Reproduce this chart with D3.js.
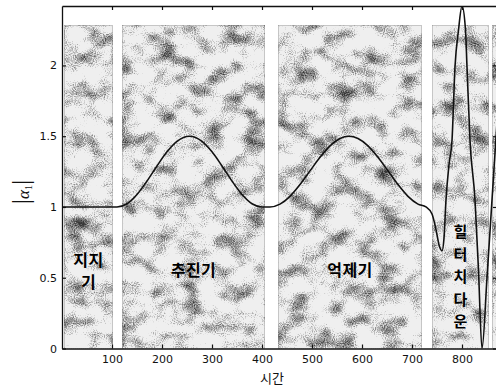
<!DOCTYPE html>
<html>
<head>
<meta charset="utf-8">
<script src="https://cdn.jsdelivr.net/npm/d3@7"></script>
<style>
  html, body { margin: 0; padding: 0; background: #fff; }
  svg { display: block; }
</style>
</head>
<body>
<div id="chart"></div>
<script>
// time axis samples and |a1|
const time = [0, 60, 110, 130, 150, 170, 190, 210, 230, 255, 280, 300, 320, 340, 360, 380, 400,
  416, 436, 456, 476, 496, 516, 536, 556, 574, 592, 612, 632, 652, 672, 692, 712, 728,
  740, 748, 755, 760, 764, 768, 774, 780, 786, 793, 800, 807, 810, 816, 826, 833, 840, 850, 860, 870];
const alpha = [1, 1, 1, 1.023, 1.088, 1.183, 1.29, 1.39, 1.464, 1.5, 1.464, 1.39, 1.29, 1.183, 1.088, 1.023, 1.0,
  1.0, 1.02, 1.075, 1.158, 1.255, 1.351, 1.432, 1.484, 1.5, 1.484, 1.432, 1.351, 1.255, 1.158, 1.075, 1.02, 1.0,
  0.95, 0.84, 0.72, 0.69, 0.78, 1.05, 1.3, 1.47, 1.99, 2.25, 2.42, 2.25, 1.99, 1.47, 1.05, 0.55, 0.0, 0.5, 1.05, 1.6];

// gait phases (shaded bands)
const phaseStart = [4, 120, 432, 740, 860];
const phaseEnd = [102, 406, 720, 854, 900];
const phaseLabels = [["지지", "기"], ["추진기"], ["억제기"], ["힐", "터", "치", "다", "운"], []];

const xTicks = [100, 200, 300, 400, 500, 600, 700, 800];
const yTicks = [0, 0.5, 1, 1.5, 2];
const yTickLabels = ["0", "0.5", "1", "1.5", "2"];

const width = 496;
const height = 388;
const plotLeft = 62, plotRight = 497, plotTop = 6, plotBottom = 348.5;
const bandTop = 25;

const x = d3.scaleLinear().domain([0, 870]).range([plotLeft, plotRight]);
const y = d3.scaleLinear().domain([0, 2.42]).range([plotBottom, plotTop]);

const svg = d3.select("#chart").append("svg")
  .attr("width", width)
  .attr("height", height);

const defs = svg.append("defs");

// mottled grey texture of the scanned bands
const filter = defs.append("filter")
  .attr("id", "mottle")
  .attr("x", 0).attr("y", 0).attr("width", 1).attr("height", 1)
  .attr("color-interpolation-filters", "sRGB");
filter.append("feTurbulence")
  .attr("type", "fractalNoise")
  .attr("baseFrequency", "0.045 0.06")
  .attr("numOctaves", 2)
  .attr("seed", 7)
  .attr("result", "bigRaw");
filter.append("feColorMatrix")
  .attr("in", "bigRaw").attr("type", "matrix")
  .attr("values", "1 0 0 0 0  1 0 0 0 0  1 0 0 0 0  0 0 0 0 1")
  .attr("result", "big");
filter.append("feTurbulence")
  .attr("type", "fractalNoise")
  .attr("baseFrequency", "0.9")
  .attr("numOctaves", 1)
  .attr("seed", 3)
  .attr("result", "fineRaw");
filter.append("feColorMatrix")
  .attr("in", "fineRaw").attr("type", "matrix")
  .attr("values", "1 0 0 0 0  1 0 0 0 0  1 0 0 0 0  0 0 0 0 1")
  .attr("result", "fine");
filter.append("feComposite")
  .attr("in", "big").attr("in2", "fine")
  .attr("operator", "arithmetic")
  .attr("k1", 0).attr("k2", 1).attr("k3", 0.6).attr("k4", -0.3)
  .attr("result", "mix");
filter.append("feColorMatrix")
  .attr("in", "mix").attr("type", "matrix")
  .attr("values", "-2.4 0 0 0 2.15  -2.4 0 0 0 2.15  -2.4 0 0 0 2.15  0 0 0 0 1")
  .attr("result", "grey");
const transfer = filter.append("feComponentTransfer").attr("in", "grey");
["feFuncR", "feFuncG", "feFuncB"].forEach((f) => {
  transfer.append(f).attr("type", "linear").attr("slope", 0.72).attr("intercept", 0.22);
});

defs.append("clipPath").attr("id", "plotClip")
  .append("rect")
  .attr("x", plotLeft).attr("y", plotTop)
  .attr("width", plotRight - plotLeft).attr("height", plotBottom - plotTop);

const plot = svg.append("g").attr("clip-path", "url(#plotClip)");

// shaded phase bands
plot.selectAll("rect.band")
  .data(phaseStart)
  .enter().append("rect")
  .attr("class", "band")
  .attr("x", (d) => x(d))
  .attr("y", bandTop)
  .attr("width", (d, i) => x(phaseEnd[i]) - x(d))
  .attr("height", plotBottom - bandTop)
  .attr("filter", "url(#mottle)");

plot.selectAll("rect.bandEdge")
  .data(phaseStart)
  .enter().append("rect")
  .attr("class", "bandEdge")
  .attr("x", (d) => x(d) + 0.5)
  .attr("y", bandTop + 0.5)
  .attr("width", (d, i) => x(phaseEnd[i]) - x(d) - 1)
  .attr("height", plotBottom - bandTop)
  .attr("fill", "none")
  .attr("stroke", "#888")
  .attr("stroke-width", 0.8)
  .attr("stroke-dasharray", "1 1");

// phase labels
const labelFont = "'Noto Sans CJK KR', 'Noto Sans', sans-serif";
phaseLabels.forEach((lines, i) => {
  if (!lines.length) {
    return;
  }
  const cx = (x(phaseStart[i]) + x(phaseEnd[i])) / 2;
  const lineGap = lines.length > 2 ? 22.5 : 22;
  const cy = lines.length > 2 ? 277 : (lines.length === 2 ? 271 : 270);
  const t = plot.append("text")
    .attr("text-anchor", "middle")
    .style("font-family", labelFont)
    .style("font-weight", "bold")
    .style("font-size", lines.length > 2 ? "15px" : "16px")
    .style("letter-spacing", lines.length > 2 ? "0px" : "0.5px")
    .attr("fill", "#000");
  lines.forEach((line, j) => {
    t.append("tspan")
      .attr("x", cx)
      .attr("y", cy + (j - (lines.length - 1) / 2) * lineGap)
      .attr("dy", "0.36em")
      .text(line);
  });
});

// |a1| curve
const line = d3.line()
  .x((d, i) => x(time[i]))
  .y((d) => y(d))
  .curve(d3.curveMonotoneX);

plot.append("path")
  .datum(alpha)
  .attr("d", line)
  .attr("fill", "none")
  .attr("stroke", "#111")
  .attr("stroke-width", 1.6);

// axes, MATLAB style with inward ticks on all four sides
const tickFont = "'DejaVu Sans', sans-serif";

svg.append("g")
  .attr("transform", `translate(0,${plotBottom})`)
  .call(d3.axisBottom(x).tickValues(xTicks).tickSize(-4).tickSizeOuter(0).tickPadding(7));

svg.append("g")
  .attr("transform", `translate(${plotLeft},0)`)
  .call(d3.axisLeft(y).tickValues(yTicks).tickFormat((d, i) => yTickLabels[i])
    .tickSize(-4).tickSizeOuter(0).tickPadding(5));

svg.append("g")
  .attr("transform", `translate(0,${plotTop})`)
  .call(d3.axisTop(x).tickValues(xTicks).tickFormat("").tickSize(-4).tickSizeOuter(0));

svg.append("g")
  .attr("transform", `translate(${plotRight},0)`)
  .call(d3.axisRight(y).tickValues(yTicks).tickFormat("").tickSize(-4).tickSizeOuter(0));

svg.selectAll(".domain").attr("stroke", "#111").attr("stroke-width", 1.3);
svg.selectAll(".tick line").attr("stroke", "#111").attr("stroke-width", 1.2);
svg.selectAll(".tick text")
  .style("font-family", tickFont)
  .style("font-size", "11px")
  .attr("fill", "#111");

// axis titles
svg.append("text")
  .attr("x", 272)
  .attr("y", 383)
  .attr("text-anchor", "middle")
  .style("font-family", labelFont)
  .style("font-size", "13px")
  .attr("fill", "#111")
  .text("시간");

const yTitle = svg.append("text")
  .attr("transform", "translate(29,192) rotate(-90)")
  .attr("text-anchor", "middle")
  .style("font-family", "'Liberation Serif', serif")
  .attr("fill", "#111");
yTitle.append("tspan").style("font-size", "26px").text("|");
yTitle.append("tspan").style("font-size", "17px").style("font-style", "italic").text("α");
yTitle.append("tspan").style("font-size", "10px").attr("dy", 3).text("1");
yTitle.append("tspan").style("font-size", "26px").attr("dy", -3).text("|");
</script>
</body>
</html>
